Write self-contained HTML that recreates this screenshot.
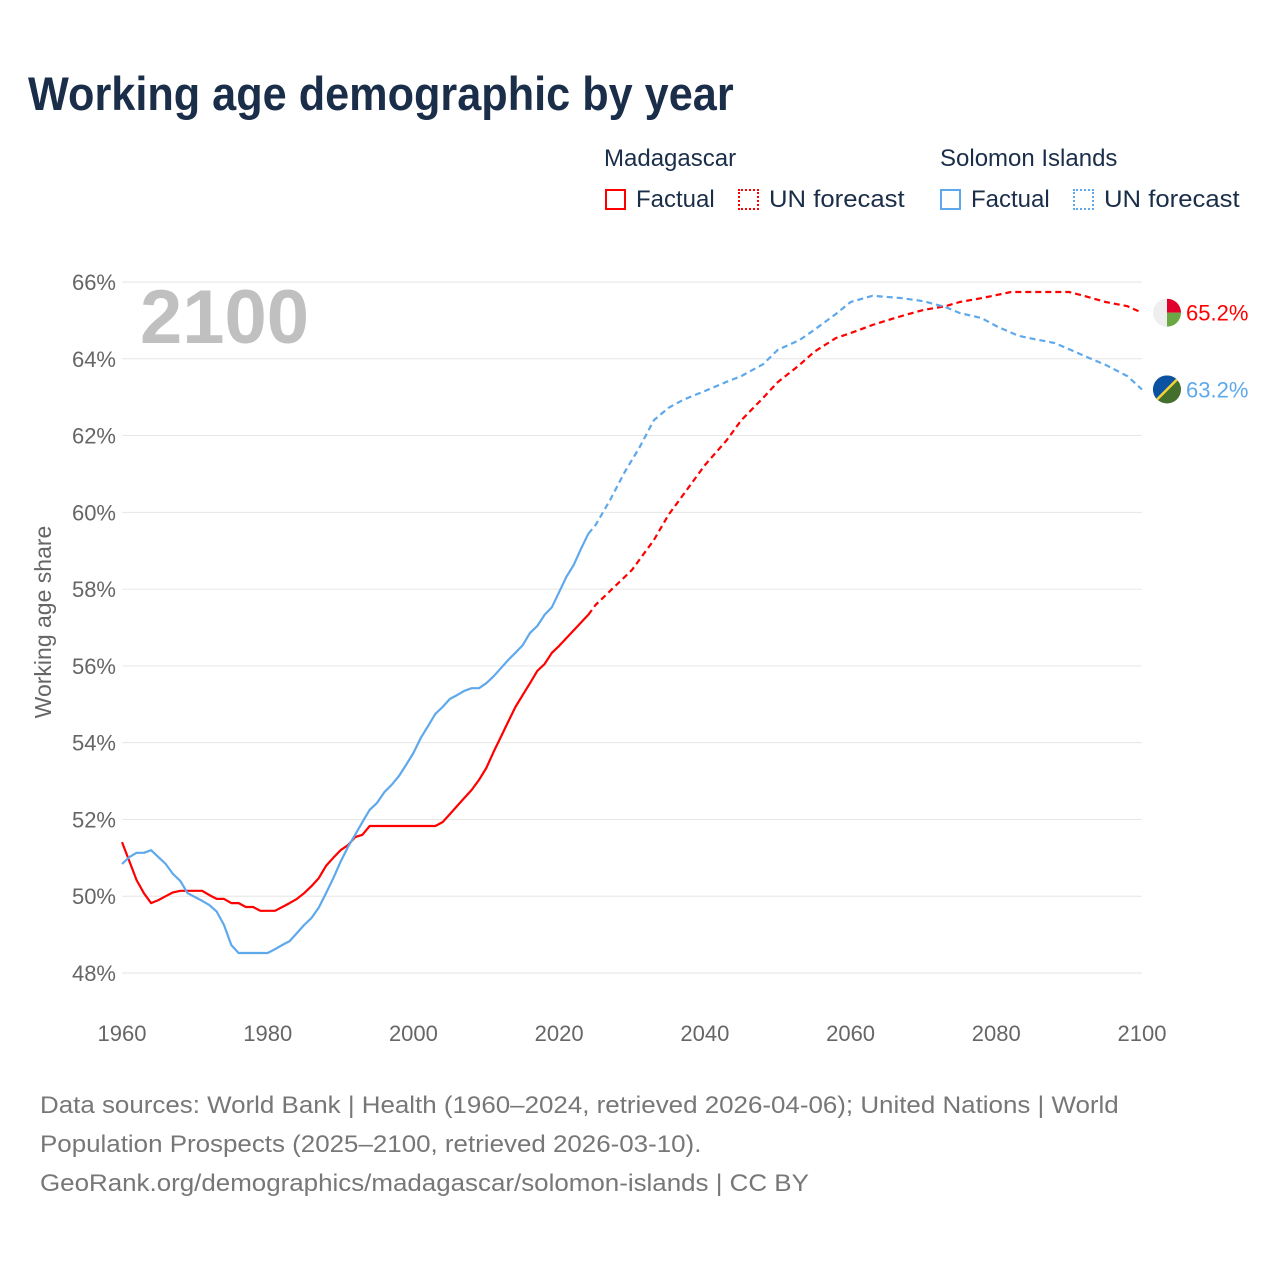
<!DOCTYPE html>
<html><head><meta charset="utf-8"><style>
body{margin:0;background:#fff;font-family:"Liberation Sans",sans-serif;}
#wrap{position:relative;width:1280px;height:1280px;overflow:hidden}
.t{position:absolute;white-space:nowrap}
.box{position:absolute;width:21px;height:21px;box-sizing:border-box}
</style></head><body><div id="wrap">
<div class="t" style="left:28px;top:66px;font-size:47px;font-weight:bold;color:#1a2e4a;transform:scaleX(0.92);transform-origin:left top">Working age demographic by year</div>
<div class="t" style="left:604px;top:145px;font-size:24px;color:#1a2e4a">Madagascar</div>
<div class="t" style="left:940px;top:145px;font-size:24px;color:#1a2e4a">Solomon Islands</div>
<div class="box" style="left:605px;top:189px;border:2px solid #f00"></div>
<div class="t" style="left:636px;top:186px;font-size:24px;color:#1a2e4a">Factual</div>
<div class="box" style="left:738px;top:189px;border:2px dotted #f00"></div>
<div class="t" style="left:769px;top:186px;font-size:24px;color:#1a2e4a;transform:scaleX(1.07);transform-origin:left top">UN forecast</div>
<div class="box" style="left:940px;top:189px;border:2px solid #5ea8ec"></div>
<div class="t" style="left:971px;top:186px;font-size:24px;color:#1a2e4a">Factual</div>
<div class="box" style="left:1073px;top:189px;border:2px dotted #5ea8ec"></div>
<div class="t" style="left:1104px;top:186px;font-size:24px;color:#1a2e4a;transform:scaleX(1.07);transform-origin:left top">UN forecast</div>
<svg id="svg" width="1280" height="1280" style="position:absolute;left:0;top:0"></svg>
<div class="t" style="left:40px;top:1086px;font-size:24px;line-height:39px;color:#777;transform:scaleX(1.08);transform-origin:left top">Data sources: World Bank | Health (1960–2024, retrieved 2026-04-06); United Nations | World<br>Population Prospects (2025–2100, retrieved 2026-03-10).<br>GeoRank.org/demographics/madagascar/solomon-islands | CC BY</div>
</div>
<script>
const mdgYears=[1960,1962,1963,1964,1965,1966,1967,1968,1971,1972,1973,1974,1975,1976,1977,1978,1979,1981,1982,1983,1984,1985,1986,1987,1988,1989,1990,1991,1992,1993,1994,2003,2004,2005,2006,2007,2008,2009,2010,2011,2012,2013,2014,2015,2016,2017,2018,2019,2020,2024,2025,2030,2033,2035,2038,2040,2043,2045,2048,2050,2053,2055,2058,2060,2063,2065,2068,2070,2073,2075,2078,2080,2082,2090,2092,2095,2098,2100];
const mdgValues=[51.41,50.42,50.08,49.82,49.9,50.0,50.1,50.14,50.14,50.03,49.93,49.93,49.82,49.82,49.72,49.72,49.62,49.62,49.72,49.82,49.93,50.08,50.26,50.47,50.79,51.0,51.2,51.33,51.54,51.6,51.83,51.83,51.93,52.14,52.35,52.56,52.77,53.03,53.34,53.76,54.15,54.54,54.93,55.24,55.55,55.87,56.05,56.34,56.52,57.33,57.59,58.5,59.28,59.93,60.71,61.23,61.88,62.4,62.98,63.39,63.84,64.18,64.54,64.67,64.88,65.0,65.17,65.27,65.37,65.48,65.58,65.66,65.74,65.74,65.64,65.48,65.37,65.2];
const slbYears=[1960,1961,1962,1963,1964,1965,1966,1967,1968,1969,1970,1971,1972,1973,1974,1975,1976,1980,1981,1982,1983,1984,1985,1986,1987,1988,1989,1990,1991,1992,1993,1994,1995,1996,1997,1998,1999,2000,2001,2002,2003,2004,2005,2006,2007,2008,2009,2010,2011,2012,2013,2014,2015,2016,2017,2018,2019,2020,2021,2022,2023,2024,2025,2027,2029,2031,2033,2035,2037,2040,2043,2045,2048,2050,2053,2055,2058,2060,2063,2067,2070,2073,2075,2078,2080,2083,2085,2088,2090,2093,2095,2098,2100];
const slbValues=[50.84,51.02,51.13,51.13,51.2,51.02,50.84,50.58,50.4,50.08,49.98,49.88,49.77,49.6,49.25,48.73,48.52,48.52,48.62,48.73,48.83,49.04,49.25,49.43,49.7,50.08,50.47,50.9,51.28,51.6,51.93,52.25,52.43,52.71,52.9,53.13,53.42,53.73,54.12,54.43,54.75,54.93,55.14,55.24,55.35,55.42,55.42,55.55,55.73,55.94,56.15,56.34,56.54,56.86,57.04,57.33,57.53,57.92,58.32,58.63,59.05,59.44,59.67,60.32,61.05,61.68,62.4,62.72,62.93,63.16,63.4,63.55,63.86,64.23,64.49,64.75,65.17,65.48,65.64,65.58,65.5,65.35,65.19,65.06,64.85,64.6,64.52,64.41,64.25,64.0,63.84,63.55,63.2];
const yTicks=[48,50,52,54,56,58,60,62,64,66];
const xTicks=[1960,1980,2000,2020,2040,2060,2080,2100];
const forecastStart=2024;
const X=y=>122+(y-1960)*(1020/140);
const Y=v=>282+(66-v)*(691/18);
const NS="http://www.w3.org/2000/svg";
const svg=document.getElementById('svg');
function mk(tag,attrs,txt){const e=document.createElementNS(NS,tag);for(const k in attrs)e.setAttribute(k,attrs[k]);if(txt!=null)e.textContent=txt;svg.appendChild(e);return e;}
yTicks.forEach(v=>{
 const l=mk('line',{x1:122,x2:1142,y1:Y(v),y2:Y(v),stroke:'#e6e6e6','stroke-width':1});
 
 
 const t=mk('text',{x:116,y:Y(v)+8,'text-anchor':'end','font-size':22,fill:'#666','font-family':'Liberation Sans'},v+'%');
 
 
});
xTicks.forEach(y=>{
 const t=mk('text',{x:X(y),y:1041,'text-anchor':'middle','font-size':22,fill:'#666','font-family':'Liberation Sans'},y);
 
 
});
const yt=mk('text',{x:0,y:0,transform:'translate(51,622) rotate(-90)','text-anchor':'middle','font-size':23,fill:'#666','font-family':'Liberation Sans'},'Working age share');


const yr=mk('text',{x:140,y:343,'font-size':76,'font-weight':'bold',fill:'#c0c0c0','font-family':'Liberation Sans'},'2100');


function series(years,vals,color,name){
 const fp=[],cp=[];
 years.forEach((y,i)=>{const p=X(y).toFixed(1)+','+Y(vals[i]).toFixed(1);if(y<=forecastStart)fp.push(p);if(y>=forecastStart)cp.push(p);});
 const a=mk('polyline',{points:fp.join(' '),fill:'none',stroke:color,'stroke-width':2.2,'stroke-linejoin':'round'});
 
 
 const b=mk('polyline',{points:cp.join(' '),fill:'none',stroke:color,'stroke-width':2.2,'stroke-dasharray':'6,4'});
 
 
}
series(mdgYears,mdgValues,'#ff0000','madagascar');
series(slbYears,slbValues,'#5ea8ec','solomon');
const mv=mdgValues[mdgValues.length-1], sv=slbValues[slbValues.length-1];
const g1=document.createElementNS(NS,'g');svg.appendChild(g1);


const cy1=Y(mv);
g1.innerHTML=`<clipPath id="c1"><circle cx="1167" cy="${cy1}" r="14"/></clipPath><g clip-path="url(#c1)"><rect x="1153" y="${cy1-14}" width="28" height="28" fill="#eee"/><rect x="1167" y="${cy1-14}" width="14" height="14" fill="#e0002a"/><rect x="1167" y="${cy1}" width="14" height="14" fill="#6aa843"/></g>`;
const l1=mk('text',{x:1186,y:cy1+8,'font-size':22,fill:'#ff0000','font-family':'Liberation Sans'},mv.toFixed(1)+'%');


const g2=document.createElementNS(NS,'g');svg.appendChild(g2);


const cy2=Y(sv);
g2.innerHTML=`<clipPath id="c2"><circle cx="1167" cy="${cy2}" r="14"/></clipPath><g clip-path="url(#c2)"><rect x="1153" y="${cy2-14}" width="28" height="28" fill="#446e2e"/><polygon points="1153,${cy2-14} 1181,${cy2-14} 1153,${cy2+14}" fill="#0b52a3"/><line x1="1181" y1="${cy2-14}" x2="1153" y2="${cy2+14}" stroke="#f5d530" stroke-width="2.5"/></g>`;
const l2=mk('text',{x:1186,y:cy2+8,'font-size':22,fill:'#5ea8ec','font-family':'Liberation Sans'},sv.toFixed(1)+'%');


</script></body></html>
